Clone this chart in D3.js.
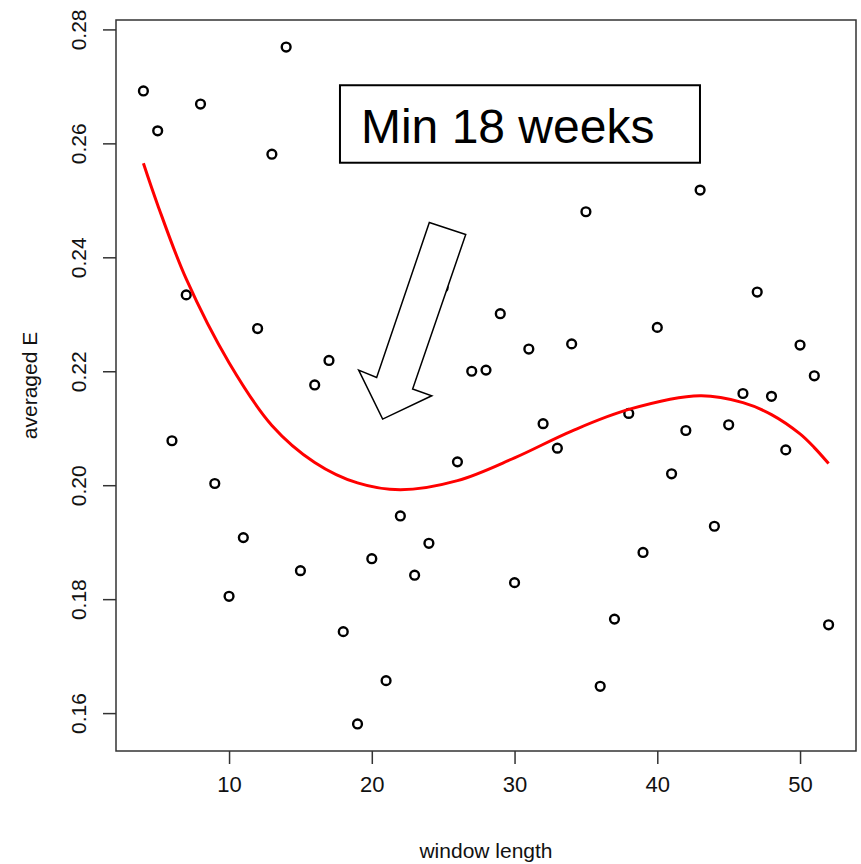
<!DOCTYPE html>
<meta charset="utf-8">
<style>
  body { margin: 0; background: #fff; }
  svg { font-family: "Liberation Sans", Arial, sans-serif; }
</style>
<svg width="861" height="864"></svg>
<script src="https://d3js.org/d3.v7.min.js"></script>
<script>

// window length (weeks) vs averaged E
var windowLength = [4,5,6,7,8,9,10,11,12,13,14,15,16,17,18,19,20,21,22,23,24,25,26,27,28,
                    29,30,31,32,33,34,35,36,37,38,39,40,41,42,43,44,45,46,47,48,49,50,51,52];
var averagedE = [0.2692,0.2622,0.2078,0.2334,0.2669,0.2003,0.1805,0.1908,0.2275,0.2581,
                 0.2769,0.1850,0.2176,0.2219,0.1743,0.1581,0.1871,0.1657,0.1946,0.1842,
                 0.1898,0.2347,0.2041,0.2200,0.2202,0.2301,0.1829,0.2239,0.2108,0.2065,
                 0.2248,0.2480,0.1647,0.1765,0.2126,0.1882,0.2277,0.2020,0.2096,0.2518,
                 0.1928,0.2106,0.2161,0.2339,0.2156,0.2062,0.2246,0.2192,0.1755];

// fitted curve
var fitX = [4,5,7,10,13,16,19,22,26,30,34,38,43,46,48,50,51,52];
var fitY = [0.2565,0.2492,0.2362,0.2215,0.2105,0.2040,0.2004,0.1992,0.2008,0.2048,0.2095,
            0.2133,0.2157,0.2145,0.2124,0.2090,0.2066,0.2038];

var xTicks = [10,20,30,40,50];
var yTicks = [0.16,0.18,0.20,0.22,0.24,0.26,0.28];

// annotation (data units)
var noteText = "Min 18 weeks";
var noteBox = {x0: 17.77, x1: 42.99, y0: 0.2702, y1: 0.2566, tx: 19.24, ty: 0.2601};
var arrowPts = [[24.03,0.2461],[26.58,0.2440],[22.86,0.2169],[24.20,0.2157],
                [20.76,0.2116],[19.08,0.2202],[20.34,0.2189]];

var svg = d3.select("svg");
var plotL = 116, plotR = 856, plotT = 20, plotB = 751;

// R-style 4% padding on each side
function pad(ext) { var d = (ext[1] - ext[0]) * 0.04; return [ext[0] - d, ext[1] + d]; }

var x = d3.scaleLinear().domain(pad(d3.extent(windowLength))).range([plotL, plotR]);
var y = d3.scaleLinear().domain(pad(d3.extent(averagedE))).range([plotB, plotT]);

var axisColor = "#333";
var fontFam = "Liberation Sans, Arial, sans-serif";

// box
svg.append("rect")
    .attr("x", plotL).attr("y", plotT)
    .attr("width", plotR - plotL).attr("height", plotB - plotT)
    .attr("fill", "none").attr("stroke", axisColor).attr("stroke-width", 1.5);

// x axis
var xAxis = svg.append("g")
    .attr("transform", "translate(0," + plotB + ")")
    .call(d3.axisBottom(x).tickValues(xTicks).tickSize(13).tickPadding(12).tickFormat(d3.format("d")));
xAxis.select(".domain").remove();
xAxis.selectAll("line").attr("stroke", axisColor).attr("stroke-width", 1.5);
xAxis.selectAll("text").attr("font-size", 22).attr("fill", "#111").attr("font-family", fontFam);

// y axis
var yAxis = svg.append("g")
    .attr("transform", "translate(" + plotL + ",0)")
    .call(d3.axisLeft(y).tickValues(yTicks).tickSize(13).tickFormat(d3.format(".2f")));
yAxis.select(".domain").remove();
yAxis.selectAll("line").attr("stroke", axisColor).attr("stroke-width", 1.5);
yAxis.selectAll("text")
    .attr("font-size", 21).attr("fill", "#111").attr("font-family", fontFam)
    .attr("x", null).attr("dy", null)
    .attr("text-anchor", "middle")
    .attr("transform", "translate(-30,0) rotate(-90)");

// axis titles
svg.append("text")
    .attr("x", (plotL + plotR) / 2).attr("y", 858)
    .attr("text-anchor", "middle").attr("font-size", 21).attr("fill", "#111")
    .text("window length");

svg.append("text")
    .attr("transform", "translate(37," + (plotT + plotB) / 2 + ") rotate(-90)")
    .attr("text-anchor", "middle").attr("font-size", 21).attr("fill", "#111")
    .text("averaged E");

// points
svg.append("g")
    .selectAll("circle")
    .data(windowLength.map(function(d, i) { return [d, averagedE[i]]; }))
    .enter().append("circle")
    .attr("cx", function(d) { return x(d[0]); })
    .attr("cy", function(d) { return y(d[1]); })
    .attr("r", 4.4)
    .attr("fill", "none")
    .attr("stroke", "#000")
    .attr("stroke-width", 2.4);

// fitted line
var line = d3.line()
    .x(function(d) { return x(d[0]); })
    .y(function(d) { return y(d[1]); })
    .curve(d3.curveCatmullRom.alpha(0.5));

svg.append("path")
    .datum(fitX.map(function(d, i) { return [d, fitY[i]]; }))
    .attr("d", line)
    .attr("fill", "none")
    .attr("stroke", "#ff0000")
    .attr("stroke-width", 3);

// annotation box
svg.append("rect")
    .attr("x", x(noteBox.x0)).attr("y", y(noteBox.y0))
    .attr("width", x(noteBox.x1) - x(noteBox.x0))
    .attr("height", y(noteBox.y1) - y(noteBox.y0))
    .attr("fill", "#fff").attr("stroke", "#000").attr("stroke-width", 2);

svg.append("text")
    .attr("x", x(noteBox.tx)).attr("y", y(noteBox.ty))
    .attr("font-size", 48).attr("fill", "#000")
    .text(noteText);

// block arrow
svg.append("polygon")
    .attr("points", arrowPts.map(function(p) { return x(p[0]) + "," + y(p[1]); }).join(" "))
    .attr("fill", "#fff").attr("stroke", "#000").attr("stroke-width", 1.5);

</script>
